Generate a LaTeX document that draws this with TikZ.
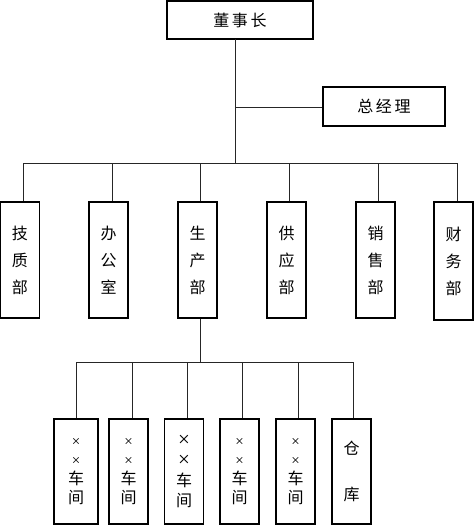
\documentclass[tikz,border=0pt]{standalone}
\usepackage{fontspec}
\setmainfont{Noto Sans CJK SC}
\newfontfamily\latinfont{Liberation Serif}
\newcommand{\smx}{{\latinfont\fontsize{15}{15}\selectfont ×}}
\newcommand{\bgx}{{\latinfont\fontsize{21}{15}\selectfont ×}}
\begin{document}
\begin{tikzpicture}[x=1pt,y=-1pt,
  every node/.style={inner sep=0pt},
  line/.style={line width=0.9pt, draw=black!85},
  hbox/.style={draw, line width=1.1pt, minimum height=38pt, font=\fontsize{16}{16}\selectfont},
  dept/.style={draw, line width=1.1pt, minimum width=39pt, minimum height=116pt, align=center, font=\fontsize{16}{27}\selectfont},
  shop/.style={draw, line width=1.1pt, minimum width=39pt, minimum height=105pt, align=center, font=\fontsize{16}{19}\selectfont}]
\useasboundingbox (0,0) rectangle (474,527);
% top
\node[hbox, minimum width=146pt] (chair) at (240,20) {董\,事\,长};
\node[hbox, minimum width=122pt, minimum height=39pt] (gm) at (384,106.5) {总\,经\,理};
% departments
\node[dept] (d1) at (20,260) {技\\质\\部};
\node[dept] (d2) at (108.5,260) {办\\公\\室};
\node[dept] (d3) at (197.5,260) {生\\产\\部};
\node[dept] (d4) at (286.5,260) {供\\应\\部};
\node[dept] (d5) at (375.5,260) {销\\售\\部};
\node[dept, minimum height=118pt] (d6) at (453.5,261) {财\\务\\部};
% workshops
\node[shop, minimum width=44pt] (w1) at (76,471.5) {\smx\\\smx\\车\\间};
\node[shop] (w2) at (128.5,471.5) {\smx\\\smx\\车\\间};
\node[shop, font=\fontsize{16}{20}\selectfont] (w3) at (184,471.5) {\bgx\\\bgx\\车\\间};
\node[shop] (w4) at (239.5,471.5) {\smx\\\smx\\车\\间};
\node[shop] (w5) at (295.5,471.5) {\smx\\\smx\\车\\间};
\node[shop, font=\fontsize{16}{46}\selectfont] (w6) at (351.5,471.5) {仓\\库};
% coordinates
\coordinate (trunk) at (235,39);
\coordinate (gmj) at (235,107);
\coordinate (busc) at (235,163);
\coordinate (b1) at (23,163);
\coordinate (b2) at (112,163);
\coordinate (b3) at (200,163);
\coordinate (b4) at (289,163);
\coordinate (b5) at (378,163);
\coordinate (b6) at (457,163);
\coordinate (pd) at (200,318);
\coordinate (pbus) at (200,362);
\coordinate (c1) at (76,362);
\coordinate (c2) at (132,362);
\coordinate (c3) at (187,362);
\coordinate (c4) at (242,362);
\coordinate (c5) at (298,362);
\coordinate (c6) at (353,362);
% connectors
\draw[line] (trunk) -- (busc);
\draw[line] (gmj) -- (gm.west |- gmj);
\draw[line] (b1) -- (b6);
\foreach \i/\d in {1/d1,2/d2,3/d3,4/d4,5/d5,6/d6}
  \draw[line] (b\i) -- (b\i |- \d.north);
\draw[line] (pd |- d3.south) -- (pbus);
\draw[line] (c1) -- (c6);
\foreach \i/\w in {1/w1,2/w2,3/w3,4/w4,5/w5,6/w6}
  \draw[line] (c\i) -- (c\i |- \w.north);
\end{tikzpicture}
\end{document}
